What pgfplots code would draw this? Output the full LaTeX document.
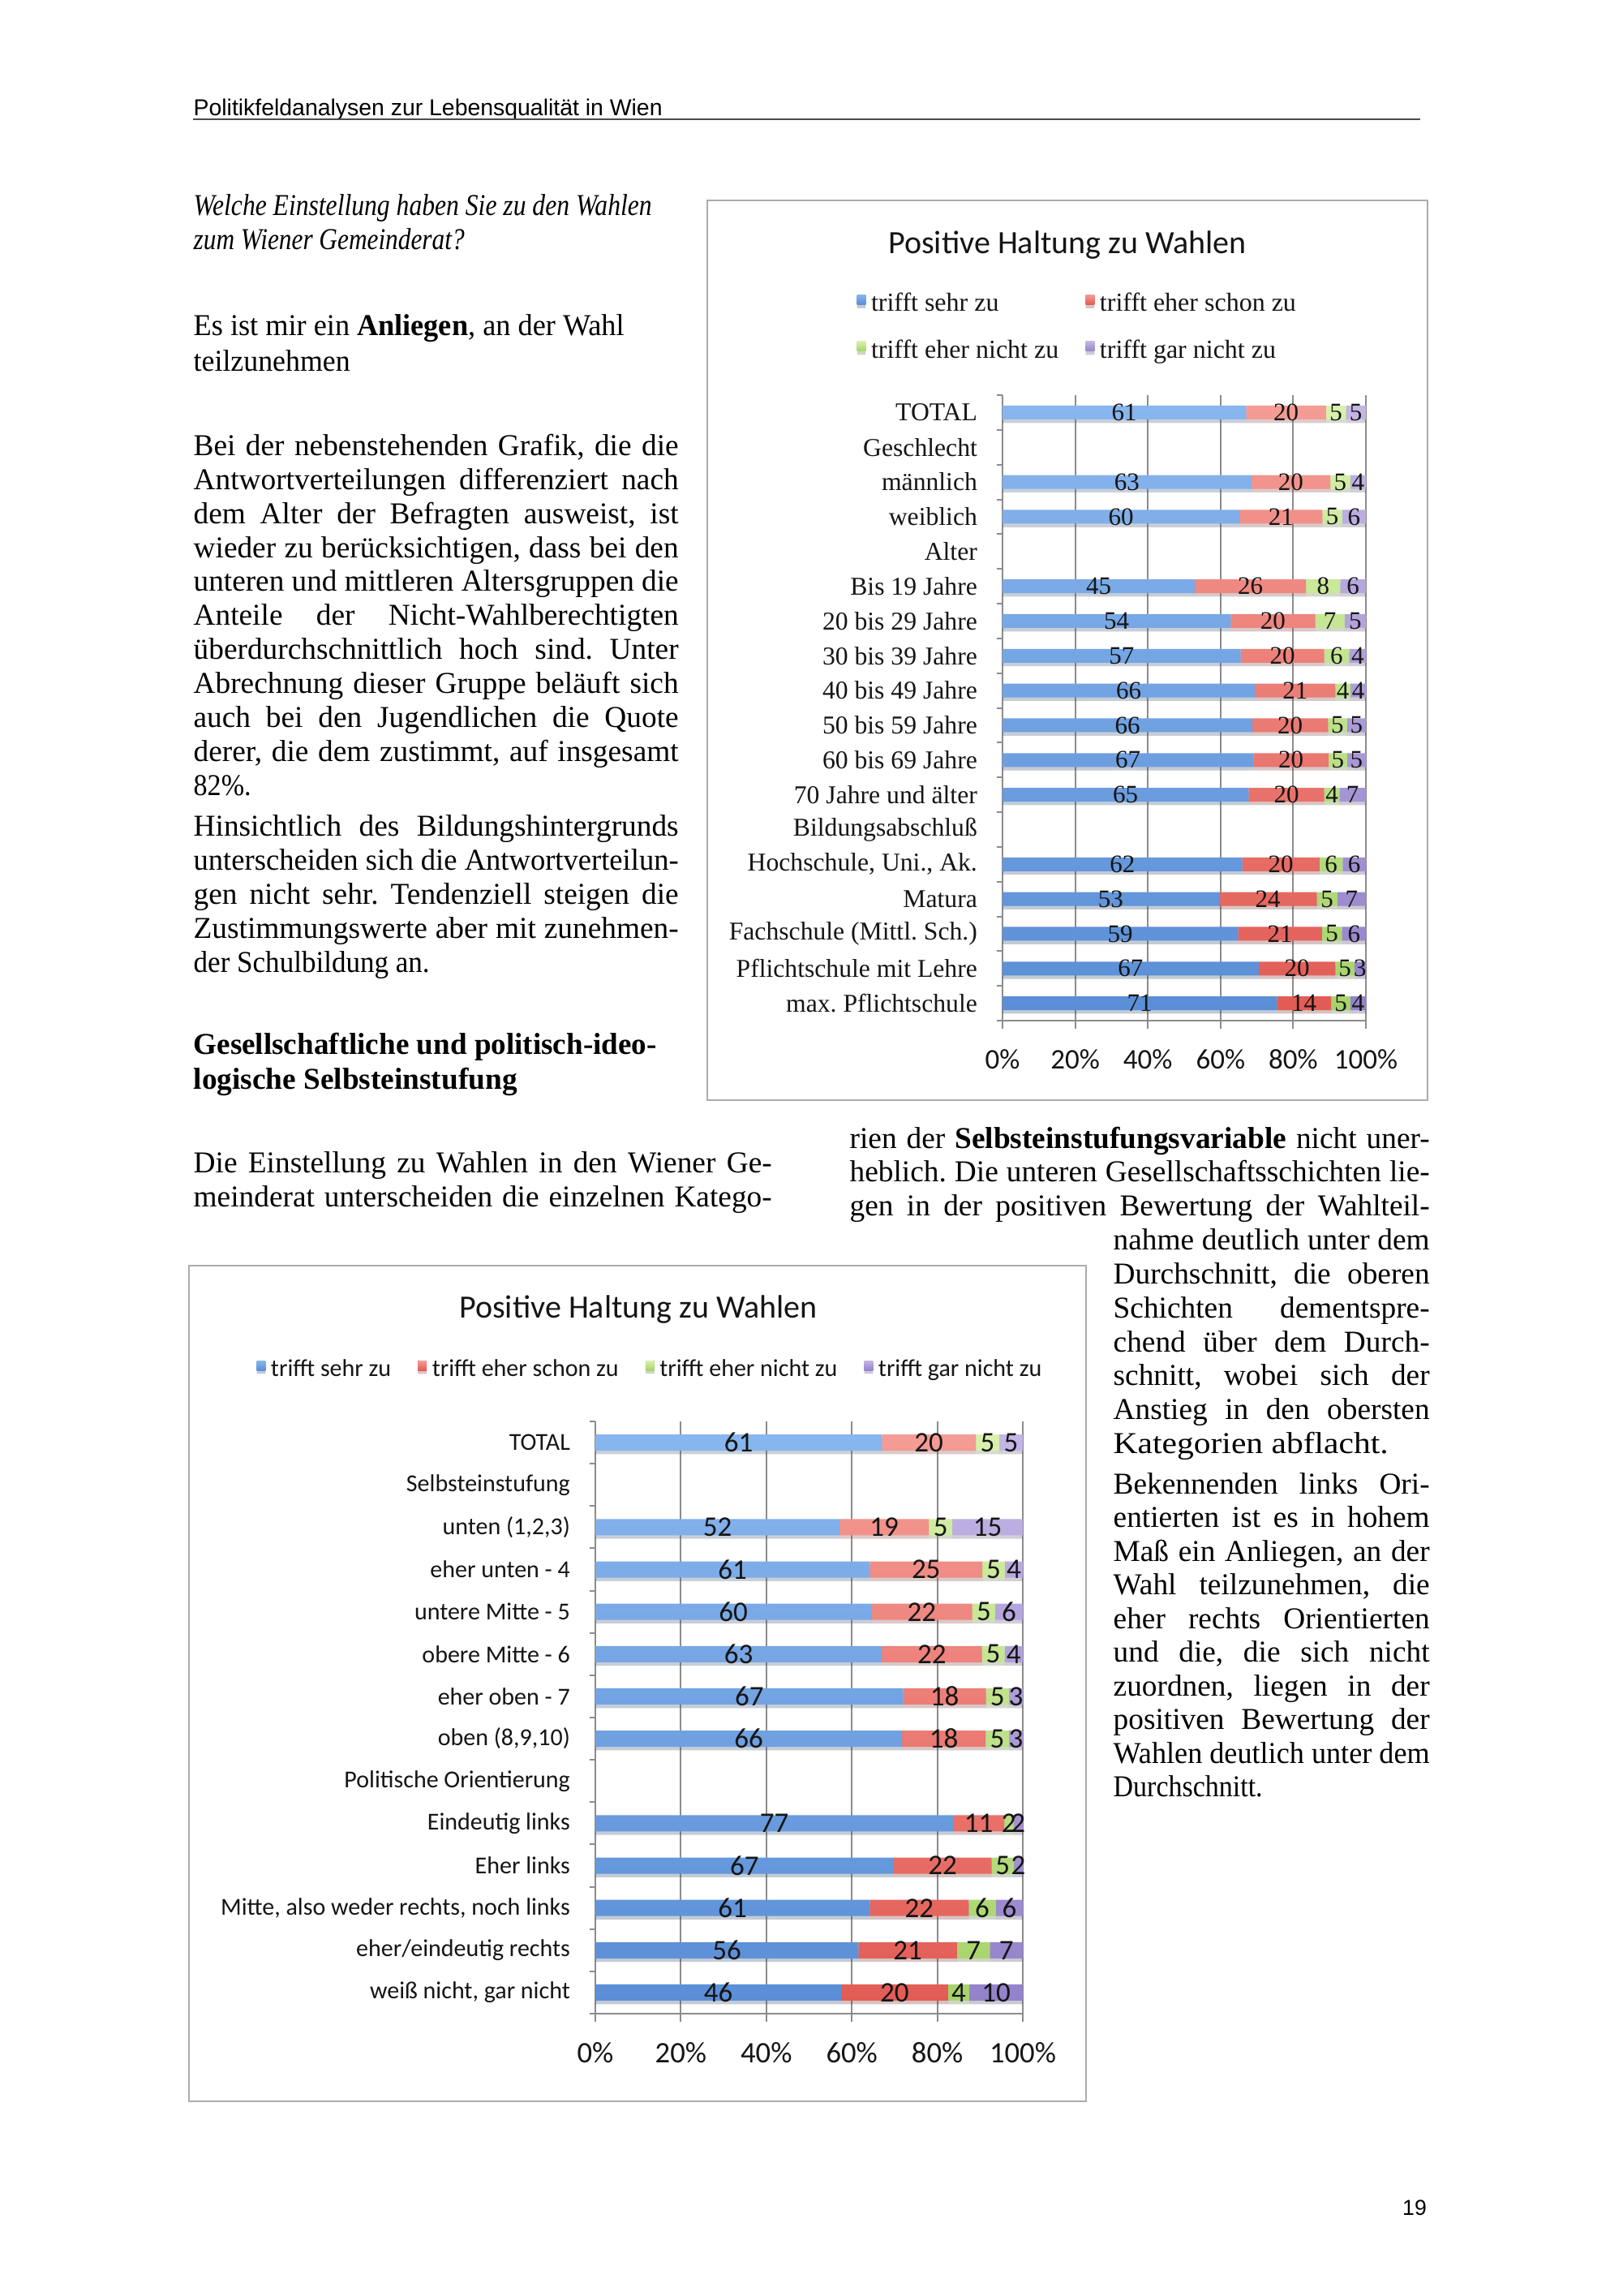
\documentclass[border=0pt]{standalone}
\usepackage{fontspec}
\usepackage{graphicx}
\usepackage{pgfplots}
\usepackage{pgfplotstable}
\pgfplotsset{compat=1.18}
\setmainfont{Liberation Serif}
\newfontfamily\calf{Carlito}
\newfontfamily\sansf{Liberation Sans}
\newfontfamily\serf{Liberation Serif}
\frenchspacing

\definecolor{bT}{HTML}{88B6EE}
\definecolor{bB}{HTML}{5A8ED6}
\definecolor{rT}{HTML}{F49C95}
\definecolor{rB}{HTML}{E25C55}
\definecolor{gT}{HTML}{D8F1AC}
\definecolor{gB}{HTML}{A6D36A}
\definecolor{pT}{HTML}{C4B6E6}
\definecolor{pB}{HTML}{9482CA}
\definecolor{gridc}{HTML}{8C8C8C}
\definecolor{txt}{HTML}{151515}

\newlength\pxu \setlength\pxu{0.3pt}
\newlength\Wd
\newcommand\J[2]{\setlength\Wd{#1\pxu}\sbox0{#2}\ifdim\wd0>\Wd\resizebox{\Wd}{\height}{#2}\else\makebox[\Wd][s]{#2}\fi}
\newcommand\F[2]{\setlength\Wd{#1\pxu}\resizebox{\Wd}{\height}{#2}}
\newcommand\body{\fontsize{11.2pt}{13pt}\selectfont}

\pgfplotstableread{
y a b c d na nb nc nd
17 61 20 5 5 67.03 21.98 5.49 5.49
15 63 20 5 4 68.48 21.74 5.43 4.35
14 60 21 5 6 65.22 22.83 5.43 6.52
12 45 26 8 6 52.94 30.59 9.41 7.06
11 54 20 7 5 62.79 23.26 8.14 5.81
10 57 20 6 4 65.52 22.99 6.90 4.60
9 66 21 4 4 69.47 22.11 4.21 4.21
8 66 20 5 5 68.75 20.83 5.21 5.21
7 67 20 5 5 69.07 20.62 5.15 5.15
6 65 20 4 7 67.71 20.83 4.17 7.29
4 62 20 6 6 65.96 21.28 6.38 6.38
3 53 24 5 7 59.55 26.97 5.62 7.86
2 59 21 5 6 64.84 23.08 5.49 6.59
1 67 20 5 3 70.53 21.05 5.26 3.16
0 71 14 5 4 75.53 14.89 5.32 4.26
}\tabA

\pgfplotstableread{
y a b c d na nb nc nd
13 61 20 5 5 67.03 21.98 5.49 5.49
11 52 19 5 15 57.14 20.88 5.49 16.48
10 61 25 5 4 64.21 26.32 5.26 4.21
9 60 22 5 6 64.52 23.66 5.38 6.44
8 63 22 5 4 67.02 23.40 5.32 4.26
7 67 18 5 3 72.04 19.35 5.38 3.23
6 66 18 5 3 71.74 19.57 5.43 3.26
4 77 11 2 2 83.70 11.96 2.17 2.17
3 67 22 5 2 69.79 22.92 5.21 2.08
2 61 22 6 6 64.21 23.16 6.32 6.31
1 56 21 7 7 61.54 23.08 7.69 7.69
0 46 20 4 10 57.50 25.00 5.00 12.50
}\tabB

\pgfplotsset{
  /pgf/number format/assume math mode=true,
  shad/.style={preaction={fill=black, opacity=0.16, transform canvas={yshift=-1.3pt}}},
  mybars/.style={
    xbar stacked, bar width=#1,
    xmin=0, xmax=100,
    scale only axis, clip=false,
    axis x line*=bottom, axis y line*=left,
    axis line style={-, draw=gridc, line width=0.6pt},
    xtick={0,20,...,100},
    xticklabel={\pgfmathprintnumber{\tick}\%},
    xtick pos=bottom, ytick pos=left,
    tick align=outside,
    major tick length=3pt,
    xtick style={draw=gridc, line width=0.6pt},
    ytick style={draw=none},
    xmajorgrids,
    major grid style={draw=gridc, line width=0.6pt},
    extra y tick style={ytick style={draw=gridc, line width=0.6pt}, major tick length=2.2pt},
    point meta=explicit,
    nodes near coords,
    every node near coord/.append style={anchor=center, text=txt},
    legend cell align=left,
    legend image code/.code={\fill[##1] (0pt,0pt) rectangle (3.2pt,3.6pt);},
  },
}

\begin{document}
\begin{tikzpicture}
\fill[white] (0,0) rectangle (600pt,-849pt);
\useasboundingbox (0,0) rectangle (600pt,-849pt);

\begin{scope}[x=0.3pt,y=-0.3pt]
% header
\node[anchor=base west, inner sep=0pt, font=\sansf\fontsize{8.5pt}{10pt}\selectfont] at (238,142) {\F{578}{Politikfeldanalysen zur Lebensqualität in Wien}};
\draw[line width=0.6pt, black!70] (238,147) -- (1751,147);

% left column
\begin{scope}[every node/.style={anchor=base west, inner sep=0pt, font=\body}]
\node at (238,265) {\F{565}{\itshape Welche Einstellung haben Sie zu den Wahlen}};
\node at (238,307) {\F{334}{\itshape zum Wiener Gemeinderat?}};
\node at (238,413) {\F{531}{Es ist mir ein \textbf{Anliegen}, an der Wahl}};
\node at (238,457) {\F{193}{teilzunehmen}};

\node at (238,561.4) {\J{598}{Bei der nebenstehenden Grafik, die die}};
\node at (238,603.3) {\J{598}{Antwortverteilungen differenziert nach}};
\node at (238,645.1) {\J{598}{dem Alter der Befragten ausweist, ist}};
\node at (238,687.0) {\J{598}{wieder zu berücksichtigen, dass bei den}};
\node at (238,728.9) {\J{598}{unteren und mittleren Altersgruppen die}};
\node at (238,770.7) {\J{598}{Anteile der Nicht-Wahlberechtigten}};
\node at (238,812.6) {\J{598}{überdurchschnittlich hoch sind. Unter}};
\node at (238,854.5) {\J{598}{Abrechnung dieser Gruppe beläuft sich}};
\node at (238,896.4) {\J{598}{auch bei den Jugendlichen die Quote}};
\node at (238,938.2) {\J{598}{derer, die dem zustimmt, auf insgesamt}};
\node at (238,980.1) {\F{71}{82\%.}};

\node at (238,1030.7) {\J{598}{Hinsichtlich des Bildungshintergrunds}};
\node at (238,1072.6) {\J{598}{unterscheiden sich die Antwortverteilun-}};
\node at (238,1114.4) {\J{598}{gen nicht sehr. Tendenziell steigen die}};
\node at (238,1156.3) {\J{598}{Zustimmungswerte aber mit zunehmen-}};
\node at (238,1198.2) {\F{291}{der Schulbildung an.}};

\node at (238,1299.6) {\F{571}{\bfseries Gesellschaftliche und politisch-ideo-}};
\node at (238,1342.9) {\F{399}{\bfseries logische Selbsteinstufung}};

\node at (238,1445.8) {\J{713}{Die Einstellung zu Wahlen in den Wiener Ge-}};
\node at (238,1487.3) {\J{713}{meinderat unterscheiden die einzelnen Katego-}};

% right column
\node at (1047,1415.1) {\J{715}{rien der \textbf{Selbsteinstufungsvariable} nicht uner-}};
\node at (1047,1456.9) {\J{715}{heblich. Die unteren Gesellschaftsschichten lie-}};
\node at (1047,1498.7) {\J{715}{gen in der positiven Bewertung der Wahlteil-}};
\node at (1372,1540.6) {\J{390}{nahme deutlich unter dem}};
\node at (1372,1582.4) {\J{390}{Durchschnitt, die oberen}};
\node at (1372,1624.2) {\J{390}{Schichten dementspre-}};
\node at (1372,1666.0) {\J{390}{chend über dem Durch-}};
\node at (1372,1707.8) {\J{390}{schnitt, wobei sich der}};
\node at (1372,1749.7) {\J{390}{Anstieg in den obersten}};
\node at (1372,1791.5) {\F{339}{Kategorien abflacht.}};
\node at (1372,1841.1) {\J{390}{Bekennenden links Ori-}};
\node at (1372,1882.6) {\J{390}{entierten ist es in hohem}};
\node at (1372,1924.1) {\J{390}{Maß ein Anliegen, an der}};
\node at (1372,1965.6) {\J{390}{Wahl teilzunehmen, die}};
\node at (1372,2007.1) {\J{390}{eher rechts Orientierten}};
\node at (1372,2048.6) {\J{390}{und die, die sich nicht}};
\node at (1372,2090.2) {\J{390}{zuordnen, liegen in der}};
\node at (1372,2131.7) {\J{390}{positiven Bewertung der}};
\node at (1372,2173.2) {\J{390}{Wahlen deutlich unter dem}};
\node at (1372,2214.7) {\F{184}{Durchschnitt.}};
\end{scope}

% chart frames and titles
\draw[gray!65, line width=0.6pt] (872,247) rectangle (1760,1356);
\draw[gray!65, line width=0.6pt] (233,1560) rectangle (1339,2590);
\node[anchor=base, inner sep=0pt, font=\calf\fontsize{12pt}{14pt}\selectfont, text=txt] at (1316,312) {Positive Haltung zu Wahlen};
\node[anchor=base, inner sep=0pt, font=\calf\fontsize{12pt}{14pt}\selectfont, text=txt] at (787,1624) {Positive Haltung zu Wahlen};

% page number
\node[anchor=base, inner sep=0pt, font=\sansf\fontsize{8pt}{9pt}\selectfont] at (1744,2730) {19};
\end{scope}

% ---------- chart 1 ----------
\begin{axis}[mybars=5.1pt,
  at={(370.8pt,-377.4pt)}, anchor=south west,
  width=134.4pt, height=231.3pt,
  ymin=-0.5, ymax=17.5,
  ytick={0,...,17},
  yticklabels={max. Pflichtschule, Pflichtschule mit Lehre, Fachschule (Mittl. Sch.), Matura, {Hochschule, Uni., Ak.}, Bildungsabschluß, 70 Jahre und älter, 60 bis 69 Jahre, 50 bis 59 Jahre, 40 bis 49 Jahre, 30 bis 39 Jahre, 20 bis 29 Jahre, Bis 19 Jahre, Alter, weiblich, männlich, Geschlecht, TOTAL},
  extra y ticks={-0.5,0.5,...,17.5}, extra y tick labels={},
  yticklabel style={font=\serf\fontsize{9.5pt}{11pt}\selectfont, text=txt, xshift=-2.8pt},
  xticklabel style={font=\calf\fontsize{10.5pt}{12pt}\selectfont, text=txt, yshift=-4pt},
  every node near coord/.append style={font=\serf\fontsize{9.3pt}{11pt}\selectfont},
  legend columns=2,
  legend style={at={(rel axis cs:-0.4018,1.1077)}, anchor=west, draw=none, fill=none, inner sep=0pt,
    font=\serf\fontsize{9.6pt}{11pt}\selectfont, text=txt, row sep=5pt,
    /tikz/every even column/.append style={column sep=8pt}},
]
\addplot[draw=none, top color=bT, bottom color=bB, shad] table[x=na, y=y, meta=a]{\tabA};
\addplot[draw=none, top color=rT, bottom color=rB, shad] table[x=nb, y=y, meta=b]{\tabA};
\addplot[draw=none, top color=gT, bottom color=gB, shad] table[x=nc, y=y, meta=c]{\tabA};
\addplot[draw=none, top color=pT, bottom color=pB, shad] table[x=nd, y=y, meta=d]{\tabA};
\legend{trifft sehr zu, trifft eher schon zu, trifft eher nicht zu, trifft gar nicht zu}
\end{axis}

% ---------- chart 2 ----------
\begin{axis}[mybars=6pt,
  at={(220.2pt,-744.6pt)}, anchor=south west,
  width=158.1pt, height=219pt,
  ymin=-0.5, ymax=13.5,
  ytick={0,...,13},
  yticklabels={{weiß nicht, gar nicht}, eher/eindeutig rechts, {Mitte, also weder rechts, noch links}, Eher links, Eindeutig links, Politische Orientierung, {oben (8,9,10)}, eher oben - 7, obere Mitte - 6, untere Mitte - 5, eher unten - 4, {unten (1,2,3)}, Selbsteinstufung, TOTAL},
  extra y ticks={-0.5,0.5,...,13.5}, extra y tick labels={},
  yticklabel style={font=\calf\fontsize{9pt}{11pt}\selectfont, text=txt, xshift=-2.8pt},
  xticklabel style={font=\calf\fontsize{11pt}{13pt}\selectfont, text=txt, yshift=-4pt},
  every node near coord/.append style={font=\calf\fontsize{10.5pt}{12pt}\selectfont},
  legend columns=4,
  legend style={at={(rel axis cs:-0.7932,1.0863)}, anchor=west, draw=none, fill=none, inner sep=0pt,
    font=\calf\fontsize{9pt}{11pt}\selectfont, text=txt,
    /tikz/every even column/.append style={column sep=8pt}},
]
\addplot[draw=none, top color=bT, bottom color=bB, shad] table[x=na, y=y, meta=a]{\tabB};
\addplot[draw=none, top color=rT, bottom color=rB, shad] table[x=nb, y=y, meta=b]{\tabB};
\addplot[draw=none, top color=gT, bottom color=gB, shad] table[x=nc, y=y, meta=c]{\tabB};
\addplot[draw=none, top color=pT, bottom color=pB, shad] table[x=nd, y=y, meta=d]{\tabB};
\legend{trifft sehr zu, trifft eher schon zu, trifft eher nicht zu, trifft gar nicht zu}
\end{axis}
\end{tikzpicture}
\end{document}
